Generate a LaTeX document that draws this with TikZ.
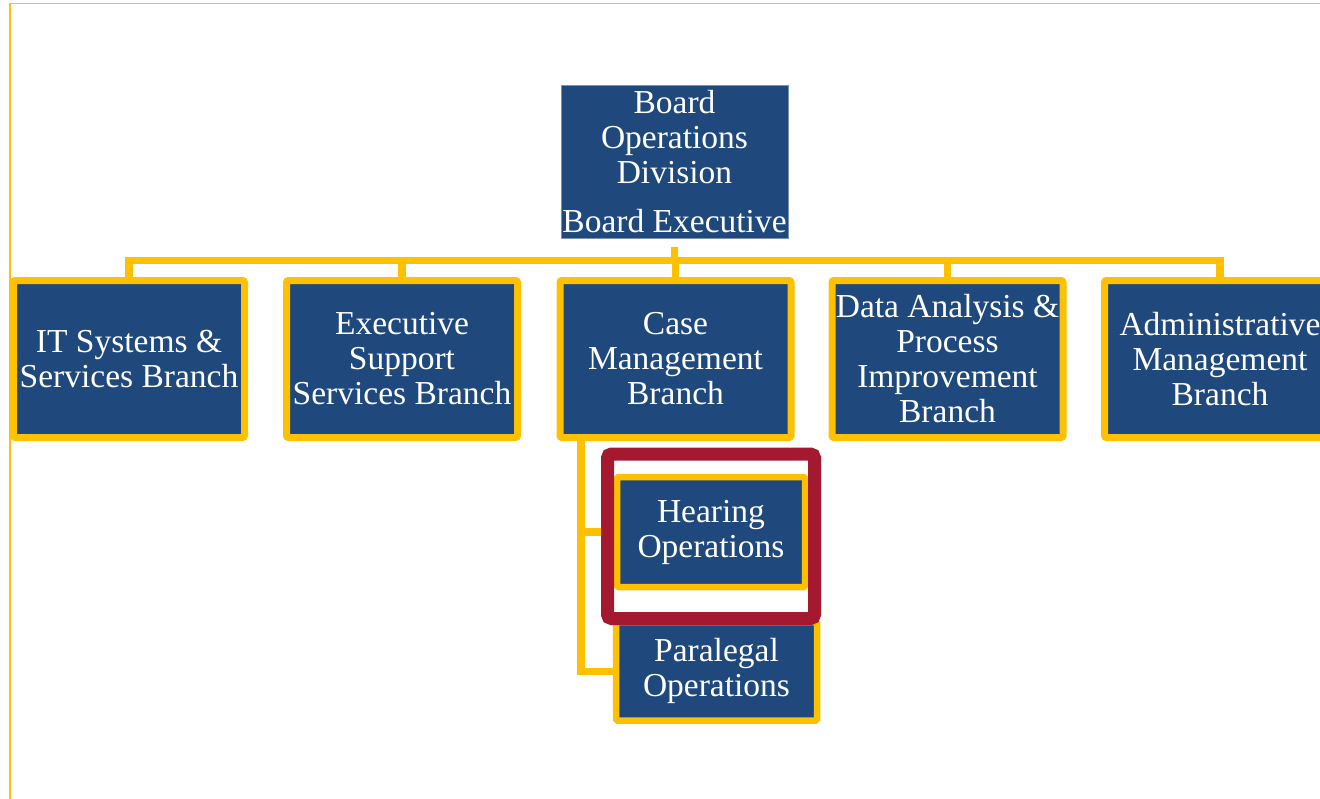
\documentclass[tikz,border=0pt]{standalone}
\usepackage{fontspec}
\setmainfont{Liberation Serif}
\usetikzlibrary{calc,positioning}
\definecolor{orgBlue}{RGB}{31,73,125}
\definecolor{orgGold}{RGB}{255,192,0}
\definecolor{orgRed}{RGB}{165,25,48}
\tikzset{
  box/.style={rectangle, fill=orgBlue, text=white, align=center, inner sep=0pt,
    font=\fontsize{33.5}{35}\selectfont},
  topbox/.style={box, draw=orgBlue!60!white, line width=0.6pt,
    minimum width=227pt, minimum height=153pt},   % division head
  branch/.style={box, draw=orgGold, line width=7pt, rounded corners=2pt,
    minimum width=231pt, minimum height=157pt},   % first level
  unit/.style={box, draw=orgGold, line width=6.5pt, rounded corners=1.5pt}, % sections
  link/.style={draw=orgGold, line width=7.5pt},
  focusRing/.style={draw=orgRed, line width=13pt, rounded corners=4pt},
  frameLine/.style={draw=orgGold, line width=1.5pt}
}

\begin{document}
\begin{tikzpicture}[x=1pt,y=-1pt]
  \useasboundingbox (0,0) rectangle (1320,798);
  \clip (0,0) rectangle (1320,798);
  % page frame, runs off right and bottom
  \draw[frameLine] (10,820) -- (10,3.5) -- (1340,3.5);
  \node[topbox] (top) at (674.5,161.7) {Board\\Operations\\Division\\[14pt]Board Executive};
  \foreach \name/\x/\txt in {b1/129/{IT Systems \&\\Services Branch},
      b2/402/{Executive\\Support\\Services Branch},
      b3/675.5/{Case\\Management\\Branch},
      b4/947.5/{Data Analysis \&\\Process\\Improvement\\Branch},
      b5/1220/{Administrative\\Management\\Branch}}
    \node[branch] (\name) at (\x,359) {\txt};
  \node[unit, minimum width=188pt, minimum height=110pt] (hear) at (711,532) {Hearing\\Operations};
  \node[unit, minimum width=201pt, minimum height=98.5pt] (para) at (716.5,671.3) {Paralegal\\Operations};
  % connectors
  \coordinate (bar) at (0,260.5);
  \coordinate (trunk) at (581,0);
  \draw[link] ([yshift=-8pt]top.south) -- (top.south |- bar);
  \draw[link] (b1.north) -- (b1.north |- bar) -- (b5.north |- bar) -- (b5.north);
  \foreach \name in {b2,b3,b4}
    \draw[link] (\name.north |- bar) -- (\name.north);
  \draw[link] (b3.south -| trunk) -- (para.west -| trunk) -- (para.west);
  \draw[link] (hear.west -| trunk) -- (hear.west);
  % highlight round Hearing Operations
  \draw[focusRing] ([xshift=-6.25pt,yshift=19.75pt]hear.north west)
    rectangle ([xshift=6.25pt,yshift=-28.25pt]hear.south east);
\end{tikzpicture}
\end{document}
